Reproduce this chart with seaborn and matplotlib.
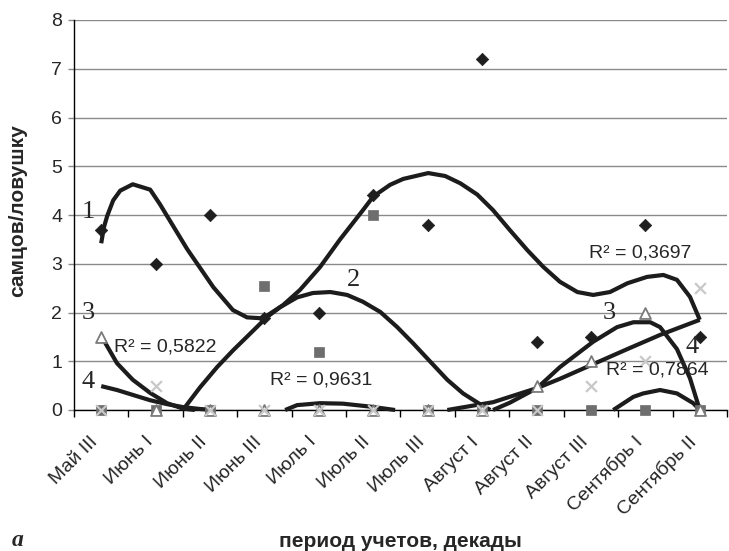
import numpy as np
import pandas as pd
import matplotlib
matplotlib.use("Agg")
import matplotlib.pyplot as plt
import matplotlib.transforms as mtransforms
import seaborn as sns

# ---------------- data ----------------
categories = ["Май III", "Июнь I", "Июнь II", "Июнь III", "Июль I", "Июль II",
              "Июль III", "Август I", "Август II", "Август III", "Сентябрь I", "Сентябрь II"]
series1 = [3.7, 3.0, 4.0, 1.88, 2.0, 4.4, 3.8, 7.2, 1.4, 1.5, 3.8, 1.5]   # diamonds
series2 = [0, 0, 0, 2.55, 1.2, 4.0, 0, 0, 0, 0, 0, 0]                    # squares
series3 = [1.5, 0, 0, 0, 0, 0, 0, 0, 0.5, 1.0, 2.0, 0]                   # triangles
series4 = [0, 0.5, 0, 0, 0, 0, 0, 0, 0, 0.5, 1.0, 2.5]                   # crosses

# trend curves (x in category index units)
trend1_x = [0.0, 0.05, 0.11, 0.22, 0.35, 0.58, 0.90, 1.08, 1.21, 1.58, 2.06, 2.42, 2.68,
            2.97, 3.34, 3.65, 4.02, 4.39, 4.81, 5.0, 5.31, 5.55, 6.01, 6.32, 6.60, 6.91,
            7.20, 7.51, 7.83, 8.12, 8.43, 8.75, 9.04, 9.35, 9.67, 10.03, 10.33, 10.58,
            10.82, 11.0]
trend1_y = [3.42, 3.75, 3.98, 4.3, 4.5, 4.63, 4.52, 4.22, 3.98, 3.3, 2.52, 2.05, 1.9,
            1.88, 2.15, 2.46, 2.93, 3.5, 4.1, 4.38, 4.62, 4.74, 4.86, 4.8, 4.65, 4.42,
            4.1, 3.69, 3.28, 2.94, 2.63, 2.42, 2.36, 2.42, 2.6, 2.73, 2.77, 2.67, 2.32, 1.85]

trend2a_x = [1.50, 1.82, 2.13, 2.42, 2.74, 3.05, 3.29, 3.60, 3.89, 4.21, 4.52, 4.81,
             5.13, 5.44, 5.73, 6.04, 6.36, 6.65, 6.96, 7.15]
trend2a_y = [0, 0.47, 0.88, 1.22, 1.57, 1.91, 2.11, 2.31, 2.40, 2.42, 2.36, 2.22,
             2.01, 1.70, 1.37, 1.0, 0.62, 0.34, 0.12, 0]
trend2b_x = [9.41, 9.78, 9.96, 10.27, 10.58, 10.88, 11.0]
trend2b_y = [0, 0.27, 0.34, 0.41, 0.34, 0.14, 0]

trend3a_x = [0.01, 0.29, 0.58, 0.90, 1.21, 1.50, 1.72]
trend3a_y = [1.5, 0.96, 0.62, 0.35, 0.14, 0.03, 0]
trend3b_x = [3.38, 3.60, 4.02, 4.44, 4.94, 5.40]
trend3b_y = [0, 0.1, 0.14, 0.13, 0.07, 0]
trend3c_x = [7.20, 7.51, 8.01, 8.43, 9.04, 9.48, 9.78, 10.09, 10.27, 10.58, 10.82, 11.0]
trend3c_y = [0, 0.15, 0.45, 0.88, 1.4, 1.7, 1.8, 1.8, 1.7, 1.25, 0.65, 0]

trend4a_x = [0.0, 0.29, 0.58, 0.90, 1.21, 1.50, 1.82, 2.09]
trend4a_y = [0.49, 0.41, 0.31, 0.2, 0.12, 0.06, 0.02, 0]
trend4b_x = [6.36, 6.78, 7.20, 8.01, 8.43, 9.04, 9.67, 10.27, 11.0]
trend4b_y = [0, 0.08, 0.16, 0.45, 0.64, 0.94, 1.25, 1.54, 1.85]

curve_labels = ["1", "2", "3", "3", "4", "4"]
curve_label_x = [-0.24, 4.63, -0.24, 9.33, -0.24, 10.86]
curve_label_y = [4.06, 2.67, 1.99, 1.99, 0.57, 1.29]

r2_texts = ["R² = 0,5822", "R² = 0,9631", "R² = 0,3697", "R² = 0,7864"]
r2_x = [1.17, 4.04, 9.90, 10.22]
r2_y = [1.29, 0.62, 3.22, 0.82]

# ---------------- style ----------------
sns.set_style("white")
plt.rcParams['font.family'] = ['Liberation Sans', 'DejaVu Sans']

fig = plt.figure(figsize=(7.29, 5.51), dpi=100)
ax = fig.add_axes([74/729, (551-410)/551, 653/729, 390/551])

idx = np.arange(len(categories))
LINE_C = "#1c1c1c"
LW = 3.0

def seg_df(*pairs):
    rows = []
    for k, (xs, ys) in enumerate(pairs):
        for x, y in zip(xs, ys):
            rows.append({"x": x, "y": y, "seg": k})
    return pd.DataFrame(rows)

for df in [seg_df((trend1_x, trend1_y)),
           seg_df((trend2a_x, trend2a_y), (trend2b_x, trend2b_y)),
           seg_df((trend3a_x, trend3a_y), (trend3b_x, trend3b_y), (trend3c_x, trend3c_y)),
           seg_df((trend4a_x, trend4a_y), (trend4b_x, trend4b_y))]:
    sns.lineplot(data=df, x="x", y="y", units="seg", estimator=None, sort=True,
                 color=LINE_C, lw=LW, ax=ax, clip_on=False, zorder=3,
                 solid_capstyle='butt', solid_joinstyle='round')

d1 = pd.DataFrame({"x": idx, "y": series1})
d2 = pd.DataFrame({"x": idx, "y": series2})
d3 = pd.DataFrame({"x": idx, "y": series3})
d4 = pd.DataFrame({"x": idx, "y": series4})
sns.scatterplot(data=d1, x="x", y="y", marker="D", s=40, color="#1e1e1e",
                edgecolor="#1e1e1e", linewidth=0.5, ax=ax, zorder=4, clip_on=False)
sns.scatterplot(data=d2, x="x", y="y", marker="s", s=52, color="#6e6e6e",
                edgecolor="#6e6e6e", linewidth=0.5, ax=ax, zorder=5, clip_on=False)
sns.scatterplot(data=d3, x="x", y="y", marker="^", s=62, color="white",
                edgecolor="#7a7a7a", linewidth=1.3, ax=ax, zorder=6, clip_on=False)
sns.scatterplot(data=d4, x="x", y="y", marker="x", s=60, color="#c8c8c8",
                linewidth=1.6, ax=ax, zorder=7, clip_on=False)

# ---------------- axes ----------------
ax.set_xlim(-0.5, 11.5)
ax.set_ylim(0, 8)
ax.set_yticks(range(0, 9))
ax.set_yticklabels([str(v) for v in range(0, 9)], fontsize=14)
ax.yaxis.grid(True, color="#8a8a8a", lw=1.0)
ax.xaxis.grid(False)
ax.set_axisbelow(True)
ax.tick_params(axis='y', length=4.5, width=1, color="#8a8a8a", pad=4, left=True)

ax.set_xticks(idx)
ax.set_xticklabels(categories, rotation=45, ha='right', va='center',
                   rotation_mode='anchor', fontsize=14)
ax.tick_params(axis='x', which='major', length=0, pad=21.2)
shift = mtransforms.ScaledTranslation(-5.5/100, 0, fig.dpi_scale_trans)
for lbl in ax.get_xticklabels():
    lbl.set_transform(lbl.get_transform() + shift)
ax.set_xticks(np.arange(-0.5, 12, 1), minor=True)
ax.tick_params(axis='x', which='minor', length=5, width=1, color='black',
               direction='out', bottom=True)

for s in ["top", "right"]:
    ax.spines[s].set_visible(False)
for s in ["left", "bottom"]:
    ax.spines[s].set_color("black")
    ax.spines[s].set_linewidth(1.0)
ax.spines["left"].set_zorder(2)

ax.set_ylabel("самцов/ловушку", fontsize=15, fontweight='bold', va='center')
ax.yaxis.set_label_coords(-0.0858, 0.51)
ax.set_xlabel("период учетов, декады", fontsize=15, fontweight='bold', va='center')
ax.xaxis.set_label_coords(0.5, -0.336)

for t, x, y in zip(curve_labels, curve_label_x, curve_label_y):
    ax.text(x, y, t, family=['Liberation Serif', 'DejaVu Serif'], fontsize=19,
            ha='center', va='center', zorder=8)
for t, x, y in zip(r2_texts, r2_x, r2_y):
    ax.text(x, y, t, fontsize=14, ha='center', va='center', zorder=8)

fig.text(18/729, 1 - 541/551, "а", family=['Liberation Serif', 'DejaVu Serif'],
         style='italic', fontweight='bold', fontsize=17, ha='center', va='center')

fig.savefig("out.png", dpi=100)
